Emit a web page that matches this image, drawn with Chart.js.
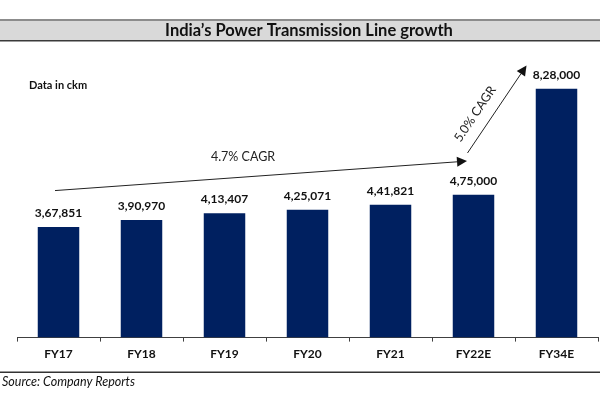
<!DOCTYPE html>
<html>
<head>
    <title>India's Power Transmission Line growth</title>
    <script src="https://cdn.jsdelivr.net/npm/chart.js"></script>
    <style>
        body { margin: 0; background: #fff; }
        #wrap { width: 600px; height: 400px; }
    </style>
</head>
<body>
<div id="wrap"><canvas id="line_chart"></canvas></div>

<script>
// data
const years = ['FY17', 'FY18', 'FY19', 'FY20', 'FY21', 'FY22E', 'FY34E'];
const lineCkm = [367851, 390970, 413407, 425071, 441821, 475000, 828000];
const cagrLabels = ['4.7% CAGR', '5.0% CAGR'];

const FONT = 'Lato, "Open Sans", sans-serif';

// indian grouping: 3,67,851
function fmtIN(n) {
    const s = String(Math.round(n));
    if (s.length <= 3) return s;
    let last3 = s.slice(-3);
    let rest = s.slice(0, -3);
    rest = rest.replace(/\B(?=(\d{2})+(?!\d))/g, ',');
    return rest + ',' + last3;
}

function arrow(ctx, x1, y1, x2, y2) {
    const ang = Math.atan2(y2 - y1, x2 - x1);
    const hl = 10, hw = 5;
    const bx = x2 - hl * Math.cos(ang), by = y2 - hl * Math.sin(ang);
    ctx.beginPath();
    ctx.moveTo(x1, y1);
    ctx.lineTo(bx, by);
    ctx.stroke();
    ctx.beginPath();
    ctx.moveTo(x2, y2);
    ctx.lineTo(bx + hw * Math.sin(ang), by - hw * Math.cos(ang));
    ctx.lineTo(bx - hw * Math.sin(ang), by + hw * Math.cos(ang));
    ctx.closePath();
    ctx.fill();
}

const decor = {
    id: 'decor',
    beforeDraw(chart) {
        const ctx = chart.ctx;
        const w = chart.width;
        ctx.save();
        // title band
        ctx.fillStyle = '#d9d9d9';
        ctx.fillRect(0, 20, w, 21);
        ctx.fillStyle = '#8c8c8c';
        ctx.fillRect(0, 19, w, 2);
        ctx.fillStyle = '#3a3a3a';
        ctx.fillRect(0, 40, w, 1.5);
        ctx.fillStyle = '#111';
        ctx.font = 'bold 16.5px ' + FONT;
        ctx.textAlign = 'center';
        ctx.textBaseline = 'middle';
        ctx.fillText('India\u2019s Power Transmission Line growth', 309, 31);

        ctx.font = 'bold 11px ' + FONT;
        ctx.textAlign = 'left';
        ctx.fillText('Data in ckm', 29, 85);

        // footer
        ctx.fillStyle = '#333';
        ctx.fillRect(0, 371.5, w, 1.5);
        ctx.fillStyle = '#111';
        ctx.font = 'italic 12.5px ' + FONT;
        ctx.fillText('Source: Company Reports', 2, 382);
        ctx.restore();
    },
    afterDatasetsDraw(chart) {
        const ctx = chart.ctx;
        const x = chart.scales.x, y = chart.scales.y;
        const meta = chart.getDatasetMeta(0);
        ctx.save();
        // value labels
        ctx.fillStyle = '#111';
        ctx.font = 'bold 12px ' + FONT;
        ctx.textAlign = 'center';
        ctx.textBaseline = 'middle';
        meta.data.forEach((bar, i) => {
            ctx.fillText(fmtIN(lineCkm[i]), bar.x, bar.y - 14);
        });

        // CAGR arrows
        ctx.strokeStyle = '#222';
        ctx.fillStyle = '#111';
        ctx.lineWidth = 1;
        const ax1 = x.getPixelForValue(0) - 3.5, ay1 = y.getPixelForValue(489000);
        const ax2 = x.getPixelForValue(5) - 6.5, ay2 = y.getPixelForValue(587000);
        arrow(ctx, ax1, ay1, ax2, ay2);
        const bx1 = x.getPixelForValue(5) - 6, by1 = y.getPixelForValue(614000);
        const bx2 = x.getPixelForValue(6) - 30, by2 = y.getPixelForValue(905000);
        arrow(ctx, bx1, by1, bx2, by2);

        ctx.font = '12.5px ' + FONT;
        ctx.fillStyle = '#222';
        ctx.fillText(cagrLabels[0], 243, 157);
        ctx.translate(475, 114);
        ctx.rotate(Math.atan2(by2 - by1, bx2 - bx1));
        ctx.fillText(cagrLabels[1], 0, 0);
        ctx.restore();
    }
};

new Chart(document.getElementById('line_chart'), {
    type: 'bar',
    data: {
        labels: years,
        datasets: [{
            label: 'ckm',
            data: lineCkm,
            backgroundColor: '#002060',
            borderWidth: 0,
            barPercentage: 0.5,
            categoryPercentage: 1
        }]
    },
    options: {
        responsive: true,
        maintainAspectRatio: false,
        animation: false,
        layout: { padding: { top: 67, left: 17, right: 2, bottom: 34 } },
        scales: {
            x: {
                offset: true,
                grid: {
                    display: true,
                    drawOnChartArea: false,
                    drawTicks: true,
                    tickLength: 4,
                    color: '#404040'
                },
                border: { display: true, color: '#404040', width: 1 },
                ticks: {
                    color: '#111',
                    padding: 5,
                    font: { family: FONT, size: 12, weight: 'bold' }
                }
            },
            y: {
                display: false,
                min: 0,
                max: 900000
            }
        },
        plugins: {
            legend: { display: false },
            tooltip: { enabled: false }
        }
    },
    plugins: [decor]
});
</script>
</body>
</html>
